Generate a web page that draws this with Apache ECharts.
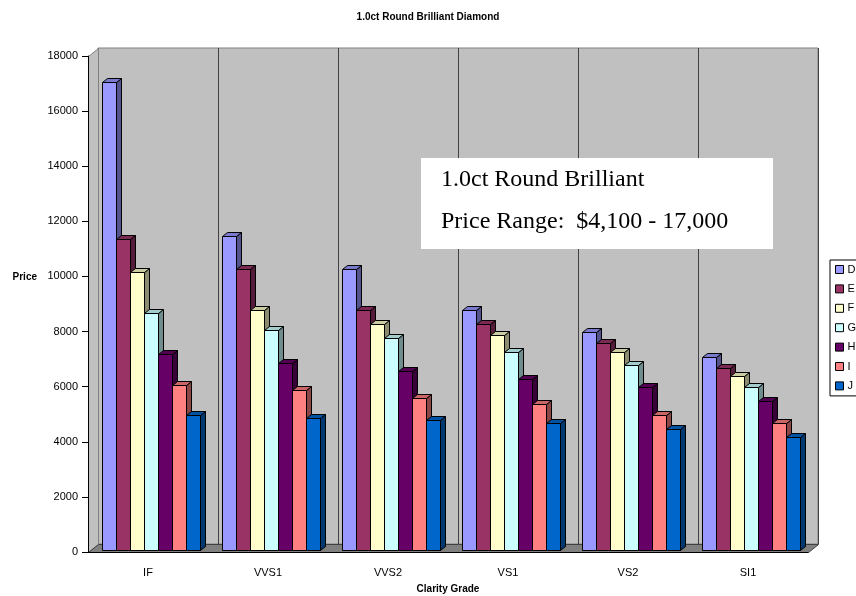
<!DOCTYPE html>
<html>
<head>
<meta charset="utf-8">
<script src="https://cdn.jsdelivr.net/npm/echarts@6/dist/echarts.min.js"></script>
<style>
  html, body { margin: 0; background: #fff; }
  #chart { width: 856px; height: 596px; }
</style>
</head>
<body>
<div id="chart"></div>
<script>
const clarity = ["IF", "VVS1", "VVS2", "VS1", "VS2", "SI1"];
const grades = ["D", "E", "F", "G", "H", "I", "J"];

// price per colour grade, one value per clarity grade
const priceD = [17000, 11400, 10200, 8700, 7900, 7000];
const priceE = [11300, 10200, 8700, 8200, 7500, 6600];
const priceF = [10100, 8700, 8200, 7800, 7200, 6300];
const priceG = [8600, 8000, 7700, 7200, 6700, 5900];
const priceH = [7100, 6800, 6500, 6200, 5900, 5400];
const priceI = [6000, 5800, 5500, 5300, 4900, 4600];
const priceJ = [4900, 4800, 4700, 4600, 4400, 4100];
const prices = [priceD, priceE, priceF, priceG, priceH, priceI, priceJ];

const faceColors = ["#9999FF", "#993366", "#FFFFCC", "#CCFFFF", "#660066", "#FF8080", "#0066CC"];
const DX = 5, DY = 4;

function shade(hex, k) {
  const n = parseInt(hex.slice(1), 16);
  const r = Math.round(((n >> 16) & 255) * k);
  const g = Math.round(((n >> 8) & 255) * k);
  const b = Math.round((n & 255) * k);
  return `rgb(${r},${g},${b})`;
}

function barShape(params, api) {
  const i = params.seriesIndex;
  const cat = api.value(0);
  const top = api.coord([cat, api.value(1)]);
  const base = api.coord([cat, 0]);
  const bw = api.size([1, 0])[0] * 14 / 120;
  const x = top[0] + (i - 3.5) * bw;
  const yT = Math.round(top[1]) + 0.5;
  const yB = Math.round(base[1]) + 0.5;
  const col = faceColors[i];
  const line = { stroke: "#000", lineWidth: 1 };
  return {
    type: "group",
    children: [
      { type: "polygon", shape: { points: [[x + bw, yT], [x + bw + DX, yT - DY], [x + bw + DX, yB - DY], [x + bw, yB]] }, style: { fill: shade(col, 0.55), ...line } },
      { type: "polygon", shape: { points: [[x, yT], [x + DX, yT - DY], [x + bw + DX, yT - DY], [x + bw, yT]] }, style: { fill: shade(col, 0.8), ...line } },
      { type: "rect", shape: { x: x, y: yT, width: bw, height: yB - yT }, style: { fill: col, ...line } },
    ],
  };
}

const font = "Liberation Sans, Arial, sans-serif";
const chart = echarts.init(document.getElementById("chart"), null, { renderer: "canvas" });

chart.setOption({
  animation: false,
  backgroundColor: "#fff",
  title: {
    text: "1.0ct Round Brilliant Diamond",
    left: "center",
    top: 7,
    textStyle: { fontFamily: font, fontSize: 10, fontWeight: "bold", color: "#000" },
  },
  legend: {
    data: grades,
    orient: "vertical",
    left: 830,
    top: 260,
    padding: [3.5, 30, 4, 5],
    itemWidth: 8,
    itemHeight: 8,
    itemGap: 7.4,
    icon: "rect",
    borderColor: "#000",
    borderWidth: 1,
    backgroundColor: "#fff",
    itemStyle: { borderColor: "#000", borderWidth: 1 },
    textStyle: { fontFamily: font, fontSize: 11, color: "#000", lineHeight: 12, padding: [0, 0, 0, -1] },
  },
  grid: [
    { left: 88, top: 56, width: 720, height: 496, outerBoundsMode: "none" },
    { left: 91.5, top: 54, width: 720, height: 496, outerBoundsMode: "none" },
    { left: 98, top: 48, width: 720, height: 496, outerBoundsMode: "none", show: true, backgroundColor: "#C0C0C0", borderColor: "#808080", borderWidth: 1, z: -1 },
  ],
  xAxis: [
    {
      gridIndex: 0, type: "category", data: clarity, z: 3,
      axisLine: { lineStyle: { color: "#000", width: 1 } },
      axisTick: { length: 8, lineStyle: { color: "#000" } },
      axisLabel: { fontFamily: font, fontSize: 11, color: "#000", margin: 15 },
      name: "Clarity Grade", nameLocation: "middle", nameGap: 32,
      nameTextStyle: { fontFamily: font, fontSize: 10, fontWeight: "bold", color: "#000" },
    },
    { gridIndex: 1, type: "category", data: clarity, show: false },
    {
      gridIndex: 2, type: "category", data: clarity, z: -1,
      axisLine: { show: false }, axisTick: { show: false }, axisLabel: { show: false },
      splitLine: { show: true, lineStyle: { color: "#404040", width: 1 } },
    },
  ],
  yAxis: [
    {
      gridIndex: 0, type: "value", min: 0, max: 18000, interval: 2000, z: 3,
      axisLine: { show: true, lineStyle: { color: "#000", width: 1 } },
      axisTick: { show: true, length: 6, lineStyle: { color: "#000" } },
      axisLabel: { fontFamily: font, fontSize: 11, color: "#000", margin: 10, formatter: (v) => String(v) },
      splitLine: { show: false },
    },
    { gridIndex: 1, type: "value", min: 0, max: 18000, show: false },
    { gridIndex: 2, type: "value", min: 0, max: 18000, show: false },
  ],
  graphic: [
    // y-axis title sits above the axis middle in the original
    { type: "text", z: 11, x: 37, y: 277, style: { text: "Price", font: "bold 10px Liberation Sans, Arial, sans-serif", fill: "#000", textAlign: "right", textVerticalAlign: "middle" } },
    // left side wall and floor of the 3D box
    { type: "polygon", z: 1, shape: { points: [[88.5, 56.5], [98.5, 48.5], [98.5, 544.5], [88.5, 552.5]] }, style: { fill: "#C0C0C0", stroke: "#808080", lineWidth: 1 } },
    { type: "polygon", z: 1, shape: { points: [[88.5, 552.5], [808.5, 552.5], [818.5, 544.5], [98.5, 544.5]] }, style: { fill: "#808080", stroke: "#404040", lineWidth: 1 } },
    // annotation box
    { type: "rect", z: 10, shape: { x: 421, y: 158, width: 352, height: 91 }, style: { fill: "#fff" } },
    { type: "text", z: 11, x: 441, y: 192, style: { text: "1.0ct Round Brilliant", font: "24px Liberation Serif, Times New Roman, serif", fill: "#000", textVerticalAlign: "bottom" } },
    { type: "text", z: 11, x: 441, y: 234, style: { text: "Price Range:  $4,100 - 17,000", font: "24px Liberation Serif, Times New Roman, serif", fill: "#000", textVerticalAlign: "bottom" } },
  ],
  series: grades.map((g, i) => ({
    name: g,
    type: "custom",
    xAxisIndex: 1,
    yAxisIndex: 1,
    z: 2,
    itemStyle: { color: faceColors[i], borderColor: "#000", borderWidth: 1 },
    encode: { x: 0, y: 1 },
    renderItem: barShape,
    data: clarity.map((c, k) => [k, prices[i][k]]),
  })),
});
</script>
</body>
</html>
